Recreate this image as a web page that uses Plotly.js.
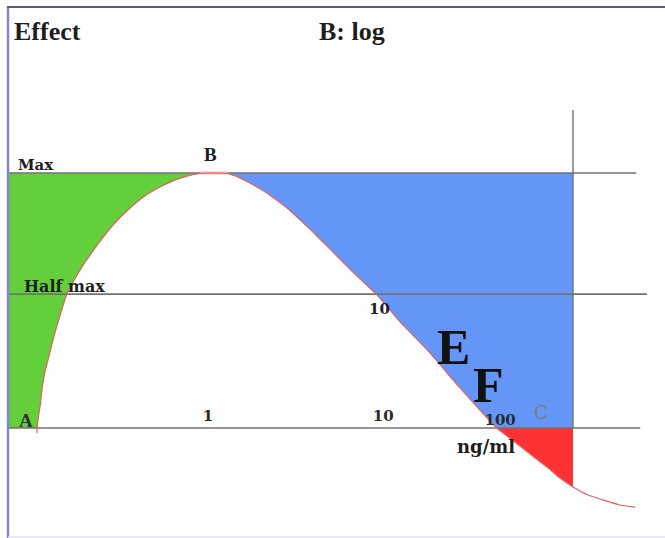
<!DOCTYPE html>
<html>
<head>
<meta charset="utf-8">
<script src="https://cdn.plot.ly/plotly-3.0.1.min.js"></script>
<style>html,body{margin:0;padding:0;background:#fff;}#chart{width:665px;height:538px;}</style>
</head>
<body>
<div id="chart"></div>
<script>
// Dose position (arbitrary units: 0 = left frame, 100 = right boundary of the shaded areas)
var curveX = [5.1, 5.3, 5.7, 6.0, 6.5, 7.3, 8.3, 9.4, 10.4, 11.7, 13.3, 14.9, 16.3, 18.9, 21.6, 24.2, 26.9, 29.6, 31.7, 34.0, 36.3,
              38.8, 41.1, 42.8, 45.0, 47.3, 49.6, 51.7, 54.5, 57.5, 61.4, 65.3, 69.4, 74.2, 80.0, 83.5, 86.5,
              88.8, 90.6, 93.3, 95.4, 97.7, 100.0, 102.7, 105.3, 108.3, 111.0];
// Effect (% of max)
var curveE = [-2.0, 3.1, 9.0, 14.9, 21.6, 28.6, 37.3, 45.5, 52.5, 58.0, 63.9, 69.0, 73.3, 80.4, 86.3, 91.0, 94.5, 97.3, 98.8, 99.8, 100,
              99.8, 98.0, 96.1, 93.3, 89.8, 85.9, 81.6, 75.7, 69.0, 60.4, 52.2, 41.6, 30.6, 15.7, 7.1, 0,
              -3.9, -7.1, -11.8, -15.3, -19.6, -23.1, -26.3, -28.2, -30.2, -31.0];

var maxLevel = 100;
var halfMaxLevel = 52.5;
var baseLevel = 0;
var regionEnd = 100;          // right boundary of coloured regions
var maxLineEnd = 111.2;
var halfLineEnd = 113.1;
var axisLineEnd = 111.9;
var vertTop = 124.7;

var tickPos = [35.4, 66.4, 87.1];
var tickLevel = [4.1, 4.1, 2.5];
var tickText = ['1', '10', '100'];

// --- derived geometry (computed from the arrays above) ---
var iPeak = curveE.indexOf(Math.max.apply(null, curveE));
var iCross = -1;
for (var i = iPeak; i < curveE.length; i++) { if (curveE[i] <= baseLevel) { iCross = i; break; } }
var iEnd = curveX.indexOf(regionEnd);
// left crossing of the base level (interpolated)
var xA = curveX[0] + (baseLevel - curveE[0]) * (curveX[1] - curveX[0]) / (curveE[1] - curveE[0]);

var greenX = [0, xA].concat(curveX.slice(1, iPeak + 1)).concat([0]);
var greenY = [baseLevel, baseLevel].concat(curveE.slice(1, iPeak + 1)).concat([maxLevel]);

var blueX = curveX.slice(iPeak, iCross + 1).concat([regionEnd, regionEnd]);
var blueY = curveE.slice(iPeak, iCross + 1).concat([baseLevel, maxLevel]);

var redX = curveX.slice(iCross, iEnd + 1).concat([regionEnd]);
var redY = curveE.slice(iCross, iEnd + 1).concat([baseLevel]);

var gray = '#727272';
var traces = [
  {x: greenX, y: greenY, mode: 'lines', fill: 'toself', fillcolor: '#63cf3a', line: {width: 0}, hoverinfo: 'skip'},
  {x: blueX, y: blueY, mode: 'lines', fill: 'toself', fillcolor: '#6496f8', line: {width: 0}, hoverinfo: 'skip'},
  {x: redX, y: redY, mode: 'lines', fill: 'toself', fillcolor: '#fe3232', line: {width: 0}, hoverinfo: 'skip'},
  {x: [0, maxLineEnd], y: [maxLevel, maxLevel], mode: 'lines', line: {color: gray, width: 1.6}},
  {x: [0, halfLineEnd], y: [halfMaxLevel, halfMaxLevel], mode: 'lines', line: {color: gray, width: 1.6}},
  {x: [0, axisLineEnd], y: [baseLevel, baseLevel], mode: 'lines', line: {color: gray, width: 1.6}},
  {x: [regionEnd, regionEnd], y: [baseLevel, vertTop], mode: 'lines', line: {color: gray, width: 1.4}},
  {x: [curveX[iPeak - 1], curveX[iPeak + 1]], y: [maxLevel, maxLevel], mode: 'lines', line: {color: '#efb8b8', width: 3}},
  {x: curveX, y: curveE, mode: 'lines', line: {color: '#e26060', width: 1.2, shape: 'spline', smoothing: 0.6}},
  {x: tickPos, y: tickLevel, mode: 'text', text: tickText,
   textfont: {family: 'DejaVu Serif', size: 15, color: '#2a2a2a', weight: 'bold'}, textposition: 'middle center', hoverinfo: 'skip'}
];

var serif = 'Liberation Serif';
var dv = 'DejaVu Serif';
function ann(text, x, y, size, fam, opts) {
  var a = {text: text, x: x, y: y, xref: 'x', yref: 'y', showarrow: false,
           font: {family: fam, size: size, color: '#1e1e1e', weight: 'bold'}, xanchor: 'center', yanchor: 'middle'};
  for (var k in opts) a[k] = opts[k];
  return a;
}
var annotations = [
  {text: 'Effect', xref: 'paper', yref: 'paper', x: 12/665, y: 1 - 32/538, xanchor: 'left', yanchor: 'middle', showarrow: false,
   font: {family: serif, size: 26, color: '#1e1e1e', weight: 'bold'}},
  {text: 'B: log', xref: 'paper', yref: 'paper', x: 352/665, y: 1 - 32/538, xanchor: 'center', yanchor: 'middle', showarrow: false,
   font: {family: serif, size: 26, color: '#1e1e1e', weight: 'bold'}},
  ann('Max', 1.5, 103.1, 15, dv, {xanchor: 'left'}),
  ann('Half max', 2.5, 55.3, 16, dv, {xanchor: 'left'}),
  ann('B', 35.9, 107.1, 19, serif),
  ann('A', 3.2, 3.1, 19, serif, {font: {family: serif, size: 19, color: '#333', weight: 'bold'}}),
  ann('10', 65.8, 46.7, 15, dv),
  ann('C', 94.3, 5.9, 18, dv, {font: {family: dv, size: 18, color: '#7a7a7a'}}),
  ann('E', 78.8, 31.8, 50, serif, {font: {family: serif, size: 50, color: '#111', weight: 'bold'}}),
  ann('F', 85.0, 16.9, 50, serif, {font: {family: serif, size: 50, color: '#111', weight: 'bold'}}),
  ann('ng/ml', 84.6, -7.3, 18, dv)
];

var shapes = [
  {type: 'line', xref: 'paper', yref: 'paper', x0: 8/665, x1: 8/665, y0: 0, y1: 1 - 6/538, line: {color: '#8a82d8', width: 2.5}},
  {type: 'line', xref: 'paper', yref: 'paper', x0: 7/665, x1: 1, y0: 1 - 7/538, y1: 1 - 7/538, line: {color: '#5e5a90', width: 2}},
  {type: 'line', xref: 'paper', yref: 'paper', x0: 8/665, x1: 1, y0: 1/538, y1: 1/538, line: {color: '#e2e0f2', width: 1.5}}
];

var layout = {
  width: 665, height: 538,
  margin: {l: 0, r: 0, t: 0, b: 0, pad: 0},
  paper_bgcolor: '#ffffff', plot_bgcolor: '#ffffff',
  showlegend: false,
  xaxis: {range: [-8/5.65, 657/5.65], visible: false, fixedrange: true},
  yaxis: {range: [-110/2.55, 428/2.55], visible: false, fixedrange: true},
  annotations: annotations,
  shapes: shapes
};

Plotly.newPlot('chart', traces, layout, {staticPlot: true, displayModeBar: false});
</script>
</body>
</html>
